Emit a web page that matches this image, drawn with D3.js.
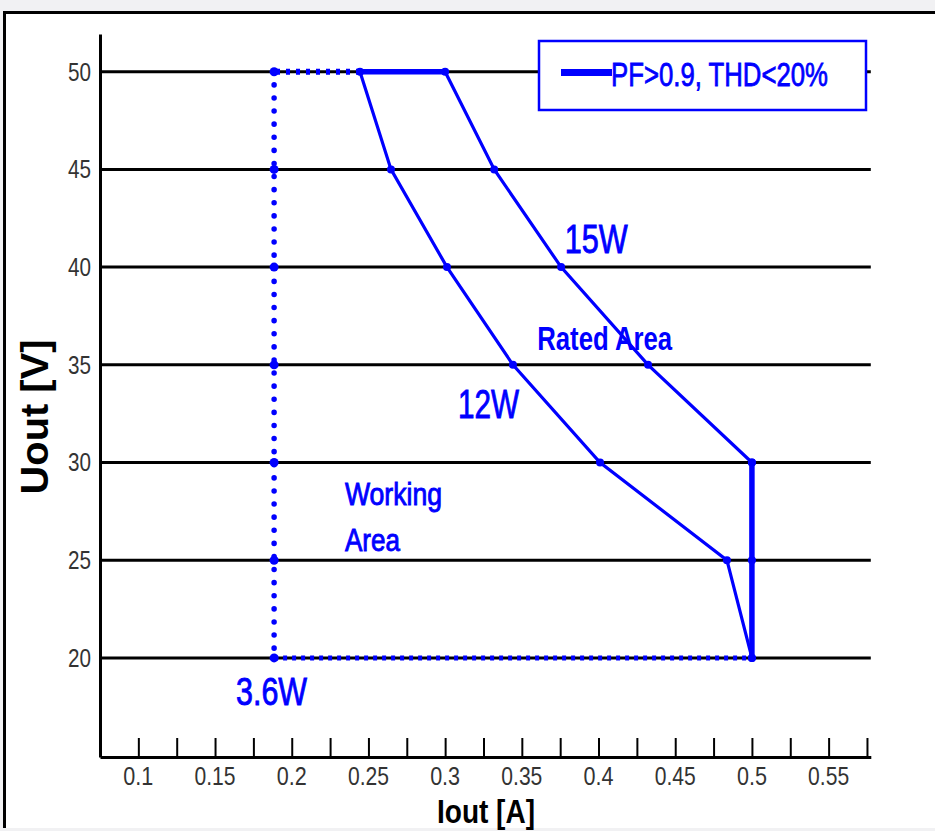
<!DOCTYPE html>
<html>
<head>
<meta charset="utf-8">
<script src="https://cdn.jsdelivr.net/npm/d3@7"></script>
<style>
  body { margin: 0; background: #f1f1f3; }
  svg { display: block; }
</style>
</head>
<body>
<svg id="chart" width="935" height="831"></svg>
<script>
// Uout / Iout operating window of the driver

// axis ticks
const voltTicks = [20, 25, 30, 35, 40, 45, 50];
const ampTicks = [0.1, 0.125, 0.15, 0.175, 0.2, 0.225, 0.25, 0.275, 0.3, 0.325,
                  0.35, 0.375, 0.4, 0.425, 0.45, 0.475, 0.5, 0.525, 0.55, 0.575];
const ampLabels = ['0.1', '0.15', '0.2', '0.25', '0.3', '0.35', '0.4', '0.45', '0.5', '0.55'];

// 12W curve
const volts12W = [50, 45, 40, 35, 30, 25, 20];
const amps12W  = [0.2445, 0.2647, 0.3012, 0.3442, 0.401, 0.4837, 0.5];

// 15W curve
const volts15W = [50, 45, 40, 35, 30];
const amps15W  = [0.3, 0.332, 0.3756, 0.4323, 0.5];

// working area edge (dotted), 3.6W corner
const voltsWorkTop = [50, 50];
const ampsWorkTop  = [0.2445, 0.1885];
const voltsWorkLeft = [50, 20];
const ampsWorkLeft  = [0.1885, 0.1885];
const voltsWorkBottom = [20, 20];
const ampsWorkBottom  = [0.1885, 0.5];
const voltsWorkDots = [50, 45, 40, 35, 30, 25, 20];

// PF>0.9, THD<20% boundary pieces (thick)
const voltsPFTop = [50, 50];
const ampsPFTop  = [0.2445, 0.3];
const voltsPFRight = [30, 20];
const ampsPFRight  = [0.5, 0.5];
const voltsPFDots = [30, 25, 20];

// text labels, in data units
const labelText  = ['15W', 'Rated Area', '12W', 'Working', 'Area', '3.6W'];
const labelAmp   = [0.378, 0.36, 0.3084, 0.2347, 0.2347, 0.1637];
const labelVolt  = [40.7, 35.76, 32.28, 27.83, 25.47, 17.59];

const legendText = 'PF>0.9, THD<20%';

const blue = '#0000ff';
const narrow = '"Liberation Sans Narrow", "Arial Narrow", "Liberation Sans", Arial, sans-serif';

const svg = d3.select('#chart');

const x = d3.scaleLinear().domain([0.075, 0.5775]).range([100, 870.8]);
const y = d3.scaleLinear().domain([14.93, 51.93]).range([757, 34]);

// white panel with black top/left frame
svg.append('rect').attr('x', 4).attr('y', 12).attr('width', 935).attr('height', 820).attr('fill', '#fff');
svg.append('line').attr('x1', 3).attr('x2', 935).attr('y1', 12.5).attr('y2', 12.5)
  .attr('stroke', '#000').attr('stroke-width', 3);
svg.append('line').attr('x1', 4.5).attr('x2', 4.5).attr('y1', 11).attr('y2', 831)
  .attr('stroke', '#000').attr('stroke-width', 3);

// horizontal grid
svg.append('g').selectAll('line')
  .data(voltTicks)
  .enter().append('line')
    .attr('x1', x(0.075)).attr('x2', x(0.5775))
    .attr('y1', d => y(d)).attr('y2', d => y(d))
    .attr('stroke', '#000').attr('stroke-width', 3);

// y axis
const yAxis = svg.append('g').attr('transform', 'translate(' + x(0.075) + ',0)')
  .call(d3.axisLeft(y).tickValues(voltTicks).tickSize(0).tickPadding(9));
yAxis.select('.domain').attr('stroke', '#000').attr('stroke-width', 3);
yAxis.selectAll('text')
  .attr('font-family', narrow).attr('font-size', 26).attr('fill', '#333')
  .attr('textLength', 23).attr('lengthAdjust', 'spacingAndGlyphs');

// x axis, ticks pointing up
const xAxis = svg.append('g').attr('transform', 'translate(0,' + y(14.93) + ')')
  .call(d3.axisBottom(x).tickValues(ampTicks).tickSizeInner(-19).tickSizeOuter(0).tickFormat(''));
xAxis.select('.domain').attr('stroke', '#000').attr('stroke-width', 3);
xAxis.selectAll('.tick line').attr('stroke', '#000').attr('stroke-width', 2);

svg.append('g').selectAll('text')
  .data(ampLabels)
  .enter().append('text')
    .attr('x', d => x(+d))
    .attr('y', 785)
    .attr('text-anchor', 'middle')
    .attr('font-family', narrow).attr('font-size', 26).attr('fill', '#333')
    .attr('textLength', d => d.length === 3 ? 30 : 41)
    .attr('lengthAdjust', 'spacingAndGlyphs')
    .text(d => d);

// axis titles
svg.append('text')
  .attr('transform', 'translate(48,417) rotate(-90)')
  .attr('text-anchor', 'middle')
  .attr('font-family', narrow).attr('font-weight', 'bold').attr('font-size', 39)
  .attr('textLength', 155).attr('lengthAdjust', 'spacingAndGlyphs')
  .text('Uout [V]');

const line = d3.line().x(d => x(d[0])).y(d => y(d[1]));
const zip = (a, v) => a.map((d, i) => [d, v[i]]);

// working area, dotted
svg.append('path').datum(zip(ampsWorkLeft, voltsWorkLeft))
  .attr('d', line).attr('fill', 'none').attr('stroke', blue)
  .attr('stroke-width', 5.5).attr('stroke-linecap', 'round').attr('stroke-dasharray', '0.1 13');
svg.append('path').datum(zip(ampsWorkTop, voltsWorkTop))
  .attr('d', line).attr('fill', 'none').attr('stroke', blue)
  .attr('stroke-width', 6).attr('stroke-dasharray', '4 6');
svg.append('path').datum(zip(ampsWorkBottom, voltsWorkBottom))
  .attr('d', line).attr('fill', 'none').attr('stroke', blue)
  .attr('stroke-width', 5).attr('stroke-dasharray', '4 5');

// power curves
svg.append('path').datum(zip(amps12W, volts12W))
  .attr('d', line).attr('fill', 'none').attr('stroke', blue).attr('stroke-width', 3.2);
svg.append('path').datum(zip(amps15W, volts15W))
  .attr('d', line).attr('fill', 'none').attr('stroke', blue).attr('stroke-width', 3.2);

// PF boundary, thick
svg.append('path').datum(zip(ampsPFTop, voltsPFTop))
  .attr('d', line).attr('fill', 'none').attr('stroke', blue).attr('stroke-width', 5.5);
svg.append('path').datum(zip(ampsPFRight, voltsPFRight))
  .attr('d', line).attr('fill', 'none').attr('stroke', blue).attr('stroke-width', 5.5);

// markers
const curveDots = [].concat(zip(amps12W, volts12W), zip(amps15W, volts15W), voltsPFDots.map(v => [0.5, v]));
svg.append('g').selectAll('circle')
  .data(curveDots)
  .enter().append('circle')
    .attr('cx', d => x(d[0])).attr('cy', d => y(d[1]))
    .attr('r', 4).attr('fill', blue);
svg.append('g').selectAll('circle')
  .data(voltsWorkDots)
  .enter().append('circle')
    .attr('cx', x(0.1885)).attr('cy', d => y(d))
    .attr('r', 4.5).attr('fill', blue);

// area / power labels
const labelSize = [40, 34, 41, 31, 31, 39];
const labelWeight = ['normal', 'bold', 'normal', 'normal', 'normal', 'normal'];
const labelStroke = [0.9, 0, 0.9, 0.9, 0.9, 0.9];
const labelWidth = [63, 135, 61, 97, 55, 71];
svg.append('g').selectAll('text')
  .data(labelText)
  .enter().append('text')
    .attr('x', (d, i) => x(labelAmp[i]))
    .attr('y', (d, i) => y(labelVolt[i]))
    .attr('font-family', narrow)
    .attr('font-size', (d, i) => labelSize[i])
    .attr('font-weight', (d, i) => labelWeight[i])
    .attr('textLength', (d, i) => labelWidth[i])
    .attr('lengthAdjust', 'spacingAndGlyphs')
    .attr('fill', blue)
    .attr('stroke', blue)
    .attr('stroke-width', (d, i) => labelStroke[i])
    .text(d => d);

// legend
const legend = svg.append('g');
legend.append('rect')
  .attr('x', 539).attr('y', 41).attr('width', 327).attr('height', 69)
  .attr('fill', '#fff').attr('stroke', blue).attr('stroke-width', 2.5);
legend.append('line')
  .attr('x1', 561).attr('x2', 612).attr('y1', 72.5).attr('y2', 72.5)
  .attr('stroke', blue).attr('stroke-width', 7);
legend.append('text')
  .attr('x', 611).attr('y', 86)
  .attr('font-family', narrow).attr('font-size', 34).attr('fill', blue)
  .attr('stroke', blue).attr('stroke-width', 0.8)
  .attr('textLength', 217).attr('lengthAdjust', 'spacingAndGlyphs')
  .text(legendText);

// page strips above and below the panel
svg.append('rect').attr('x', 0).attr('y', 828).attr('width', 935).attr('height', 3).attr('fill', '#f1f1f3');
svg.append('rect').attr('x', 0).attr('y', 0).attr('width', 935).attr('height', 11).attr('fill', '#f1f1f3');

// x title sits right at the bottom edge
svg.append('text')
  .attr('x', 437).attr('y', 823)
  .attr('font-family', narrow).attr('font-weight', 'bold').attr('font-size', 34)
  .attr('textLength', 98).attr('lengthAdjust', 'spacingAndGlyphs')
  .text('Iout [A]');
</script>
</body>
</html>
